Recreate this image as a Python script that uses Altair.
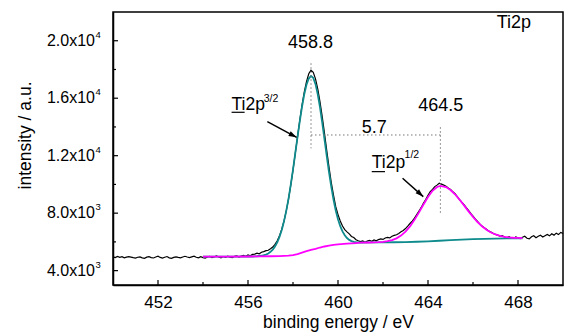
import altair as alt
import pandas as pd

# ---------------- data ----------------
# experimental spectrum (black), sampled every 0.1 eV from 450.0 to 470.0
exp_start = 450.0
exp_step = 0.1
exp_y = [
    4960, 4910, 4990, 4930, 4970, 4890, 4940, 4980, 4940, 4900,
    4870, 4930, 4960, 4890, 4860, 4940, 4970, 4910, 4880, 4950,
    5000, 4920, 4870, 4930, 4980, 4890, 4850, 4920, 4960, 4920,
    4890, 4950, 5000, 4950, 4910, 4960, 5010, 4930, 4890, 4970,
    4910, 4870, 4950, 4990, 4900, 4960, 5020, 4950, 4890, 4980,
    4920, 5000, 4940, 4900, 4990, 5030, 4950, 5010, 5060, 5000,
    5090, 5030, 5130, 5150, 5210, 5170, 5280, 5320, 5390, 5420,
    5520, 5640, 5830, 6080, 6420, 6880, 7450, 8150, 8980, 9950,
    11000, 12150, 13300, 14450, 15500, 16420, 17150, 17700, 17950, 17800,
    17350, 16650, 15750, 14700, 13550, 12350, 11200, 10150, 9250, 8450,
    7900, 7450, 7100, 6850, 6700, 6560, 6380, 6300, 6150, 6080,
    6020, 6070, 5980, 6050, 6110, 6040, 6130, 6070, 6160, 6210,
    6170, 6270, 6310, 6280, 6390, 6450, 6500, 6590, 6700, 6800,
    6930, 7100, 7280, 7450, 7650, 7900, 8150, 8400, 8700, 8950,
    9250, 9500, 9650, 9850, 9950, 10080, 10020, 9950, 9880, 9750,
    9650, 9500, 9350, 9150, 8950, 8760, 8600, 8380, 8200, 7980,
    7800, 7600, 7420, 7250, 7100, 6980, 6880, 6750, 6680, 6580,
    6520, 6470, 6400, 6430, 6340, 6290, 6370, 6270, 6240, 6340,
    6280, 6230, 6320, 6390, 6250, 6210, 6360, 6430, 6290, 6390,
    6460, 6340, 6430, 6520, 6420, 6560, 6470, 6610, 6510, 6660,
    6580,
]
exp_x = [round(exp_start + exp_step * i, 1) for i in range(len(exp_y))]

# Ti2p3/2 fit component + background (teal)
teal_x = [454.0, 454.5, 455.0, 455.5, 456.0, 456.2, 456.4, 456.6, 456.8,
          456.9, 457.0, 457.1, 457.2, 457.3, 457.4, 457.5, 457.6, 457.7, 457.8,
          457.9, 458.0, 458.1, 458.2, 458.3, 458.4, 458.5, 458.6, 458.7, 458.8,
          458.9, 459.0, 459.1, 459.2, 459.3, 459.4, 459.5, 459.6, 459.7, 459.8,
          459.9, 460.0, 460.1, 460.2, 460.3, 460.4, 460.5, 460.6, 460.7, 460.8,
          461.0, 461.5, 462.0, 462.5, 463.0, 463.5, 464.0, 464.5, 465.0, 465.5,
          466.0, 466.5, 467.0, 467.5, 468.0, 468.2]
teal_y = [4980, 4980, 4980, 4980, 4985, 4985, 5000, 5035, 5120,
          5197, 5310, 5466, 5685, 5975, 6350, 6830, 7430, 8155, 9000,
          9970, 11030, 12155, 13290, 14390, 15405, 16270, 16940, 17370, 17540,
          17414, 16977, 16277, 15359, 14283, 13130, 11969, 10861, 9840, 8947,
          8190, 7577, 7094, 6729, 6458, 6268, 6139, 6055, 6005, 5976,
          5950, 5960, 5965, 5975, 5990, 6010, 6040, 6080, 6120, 6160,
          6190, 6210, 6225, 6240, 6250, 6250]

# Ti2p1/2 fit component + background (magenta)
mag_x = [454.0, 455.0, 456.0, 456.5, 457.0, 457.4, 457.8, 458.0, 458.2, 458.4,
         458.6, 458.8, 459.0, 459.2, 459.4, 459.6, 459.8, 460.0, 460.4, 460.8,
         461.0, 461.4, 461.8, 462.0, 462.2, 462.4, 462.6, 462.8, 463.0, 463.2,
         463.4, 463.6, 463.8, 464.0, 464.2, 464.4, 464.55, 464.8, 465.0, 465.2,
         465.4, 465.6, 465.8, 466.0, 466.2, 466.4, 466.6, 466.8, 467.0, 467.2,
         467.4, 467.6, 467.8, 468.0, 468.2]
mag_y = [4980, 4980, 4985, 4990, 5000, 5010, 5040, 5080, 5150, 5250,
         5350, 5440, 5520, 5610, 5680, 5740, 5790, 5830, 5880, 5920,
         5945, 5957, 5982, 6007, 6050, 6125, 6249, 6438, 6712, 7077,
         7532, 8055, 8607, 9130, 9556, 9823, 9895, 9813, 9613, 9315,
         8947, 8540, 8127, 7737, 7384, 7085, 6841, 6653, 6516, 6419,
         6354, 6313, 6287, 6273, 6262]

# axis ticks and labels
x_ticks = [452, 456, 460, 464, 468]
x_minor = [454, 458, 462, 466]
y_ticks = [4000, 8000, 12000, 16000, 20000]
y_tick_base = ["4.0x10", "8.0x10", "1.2x10", "1.6x10", "2.0x10"]
y_tick_exp = ["3", "3", "4", "4", "4"]
y_minor = [6000, 10000, 14000, 18000]

# annotations (data coordinates)
peak_texts = ["458.8", "464.5", "5.7"]
peak_text_x = [458.78, 464.57, 461.61]
peak_text_y = [19475, 15130, 13560]

label_texts = ["Ti2p", "3/2", "Ti2p", "1/2", "Ti2p"]
label_x = [455.27, 456.70, 461.50, 462.96, 467.05]
label_y = [15180, 15740, 11120, 11820, 20870]
label_size = [17.5, 10.5, 17.5, 10.5, 18]

dot_x = [458.8, 458.8, 464.55]
dot_x2 = [458.8, 464.55, 464.55]
dot_y = [18430, 13440, 13980]
dot_y2 = [12510, 13440, 7990]

arrow_x = [456.86, 462.87]
arrow_y = [14370, 10430]
arrow_x2 = [458.16, 463.79]
arrow_y2 = [13280, 9150]
arrow_angle = [27.5, 41.8]

under_x = [455.27, 461.50]
under_x2 = [455.85, 462.09]
under_y = [15020, 10890]

# ---------------- chart ----------------
FONT = "Liberation Sans"
xscale = alt.Scale(domain=[450, 470], nice=False, zero=False)
yscale = alt.Scale(domain=[3000, 22000], nice=False, zero=False)

xaxis = alt.Axis(values=x_ticks, tickSize=0, labelPadding=9, labelFontSize=17,
                 labelFont=FONT, labelColor="black", domainColor="black",
                 domainWidth=1.5, grid=False, title="binding energy / eV",
                 titleFont=FONT, titleFontSize=17.5, titleFontWeight="normal",
                 titleColor="black", titleBaseline="alphabetic", titleY=42)
yaxis = alt.Axis(values=y_ticks, tickSize=0, labels=False,
                 domainColor="black", domainWidth=1.5, grid=False,
                 title="intensity / a.u.", titleFont=FONT, titleFontSize=17.5,
                 titleFontWeight="normal", titleColor="black", titleAngle=270,
                 titleAlign="center", titleBaseline="middle", titleX=-88, titleY=123)


def X(f="x"):
    return alt.X(f"{f}:Q", scale=xscale, axis=xaxis)


def Y(f="y"):
    return alt.Y(f"{f}:Q", scale=yscale, axis=yaxis)


df_exp = pd.DataFrame({"x": exp_x, "y": exp_y})
df_teal = pd.DataFrame({"x": teal_x, "y": teal_y})
df_mag = pd.DataFrame({"x": mag_x, "y": mag_y})

exp_line = alt.Chart(df_exp).mark_line(color="black", strokeWidth=1.2).encode(x=X(), y=Y())
teal_line = alt.Chart(df_teal).mark_line(color="#0f8b8d", strokeWidth=1.8).encode(x=X(), y=Y())
mag_line = alt.Chart(df_mag).mark_line(color="#ff00ff", strokeWidth=1.8).encode(x=X(), y=Y())

df_dot = pd.DataFrame({"x": dot_x, "x2": dot_x2, "y": dot_y, "y2": dot_y2})
dots = alt.Chart(df_dot).mark_rule(color="#777777", strokeWidth=1, strokeDash=[1.5, 2.5]).encode(
    x=X(), x2="x2:Q", y=Y(), y2="y2:Q")

df_arrow = pd.DataFrame({"x": arrow_x, "y": arrow_y, "x2": arrow_x2, "y2": arrow_y2,
                         "angle": arrow_angle})
arrow_lines = alt.Chart(df_arrow).mark_rule(color="black", strokeWidth=1.5).encode(
    x=X(), x2="x2:Q", y=Y(), y2="y2:Q")
arrow_heads = alt.Chart(df_arrow).mark_point(
    shape="M0,0L-2,-0.65L-2,0.65Z", filled=True, color="black", size=64, opacity=1
).encode(x=X("x2"), y=Y("y2"), angle=alt.Angle("angle:Q", scale=None))

df_under = pd.DataFrame({"x": under_x, "x2": under_x2, "y": under_y})
underlines = alt.Chart(df_under).mark_rule(color="black", strokeWidth=1.2).encode(
    x=X(), x2="x2:Q", y=Y())

df_pt = pd.DataFrame({"t": peak_texts, "x": peak_text_x, "y": peak_text_y})
peak_lbl = alt.Chart(df_pt).mark_text(font=FONT, fontSize=18, color="black", align="center",
                                      baseline="alphabetic").encode(x=X(), y=Y(), text="t:N")

df_lt = pd.DataFrame({"t": label_texts, "x": label_x, "y": label_y, "fs": label_size})
lbl = alt.Chart(df_lt).mark_text(font=FONT, color="black", align="left",
                                 baseline="alphabetic").encode(
    x=X(), y=Y(), text="t:N", size=alt.Size("fs:Q", scale=None))

# y tick labels with real superscripts
df_yl = pd.DataFrame({"y": y_ticks, "b": y_tick_base, "e": y_tick_exp})
ylab_base = alt.Chart(df_yl).mark_text(font=FONT, fontSize=16, color="black", align="right",
                                       baseline="middle").encode(
    y=Y(), x=alt.value(-18), text="b:N")
ylab_exp = alt.Chart(df_yl).mark_text(font=FONT, fontSize=9.5, color="black", align="left",
                                      baseline="middle", dy=-6).encode(
    y=Y(), x=alt.value(-17.5), text="e:N")

# inward ticks
xt_major = alt.Chart(pd.DataFrame({"x": x_ticks})).mark_rule(color="black", strokeWidth=1.2).encode(
    x=X(), y=alt.value(273), y2=alt.value(268))
xt_minor = alt.Chart(pd.DataFrame({"x": x_minor})).mark_rule(color="black", strokeWidth=1.2).encode(
    x=X(), y=alt.value(273), y2=alt.value(270))
yt_major = alt.Chart(pd.DataFrame({"y": y_ticks})).mark_rule(color="black", strokeWidth=1.2).encode(
    y=Y(), x=alt.value(0), x2=alt.value(5))
yt_minor = alt.Chart(pd.DataFrame({"y": y_minor})).mark_rule(color="black", strokeWidth=1.2).encode(
    y=Y(), x=alt.value(0), x2=alt.value(3))

chart = alt.layer(
    exp_line, teal_line, mag_line, dots, arrow_lines, arrow_heads, underlines,
    peak_lbl, lbl, ylab_base, ylab_exp, xt_major, xt_minor, yt_major, yt_minor
).properties(
    width=450, height=273,
    autosize=alt.AutoSizeParams(type="none"),
    padding={"left": 113, "top": 12, "right": 1, "bottom": 50},
    background="white",
).configure_view(stroke="black", strokeWidth=1.5)

chart.save("out.html", embed_options={"renderer": "svg", "actions": False})
